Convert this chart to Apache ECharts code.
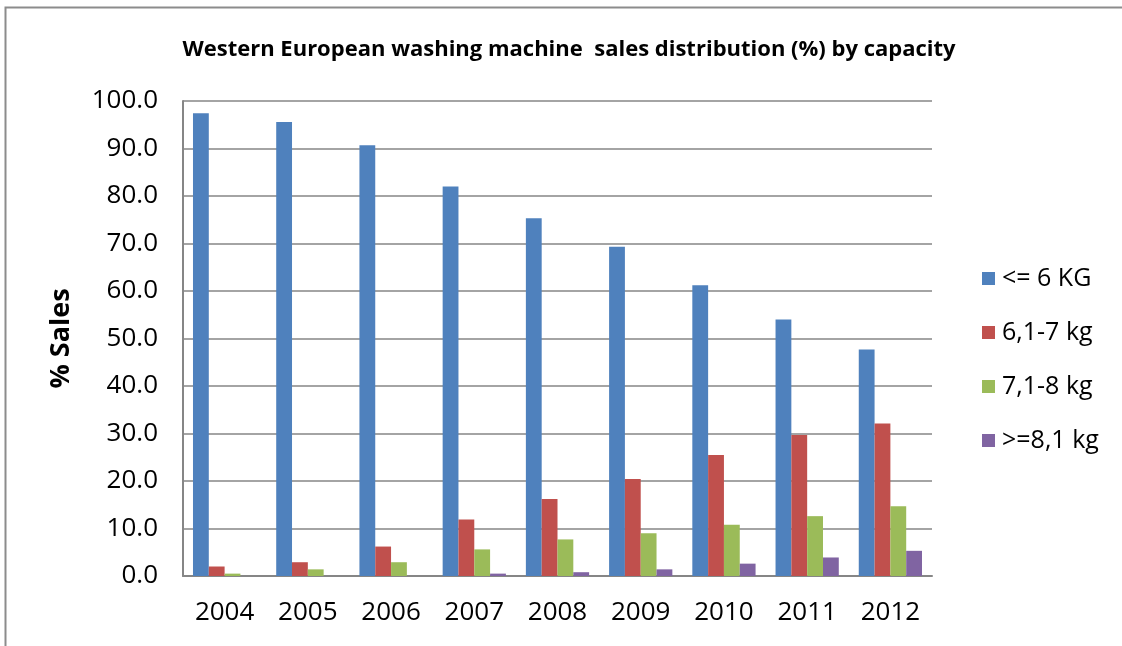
<!DOCTYPE html>
<html>
<head>
<meta charset="utf-8">
<script src="https://cdn.jsdelivr.net/npm/echarts@6/dist/echarts.min.js"></script>
<style>
html,body{margin:0;padding:0;background:#fff;}
#chart{width:1122px;height:646px;}
</style>
</head>
<body>
<div id="chart"></div>
<script>
const years = ['2004','2005','2006','2007','2008','2009','2010','2011','2012'];
const seriesNames = ['<= 6 KG','6,1-7 kg','7,1-8 kg','>=8,1 kg'];
const upTo6 = [97.4, 95.6, 90.7, 82.0, 75.3, 69.3, 61.2, 54.0, 47.7];
const from61to7 = [2.0, 2.9, 6.2, 11.9, 16.2, 20.4, 25.5, 29.7, 32.1];
const from71to8 = [0.5, 1.4, 2.9, 5.6, 7.7, 9.0, 10.8, 12.6, 14.7];
const over81 = [0.0, 0.0, 0.0, 0.5, 0.8, 1.4, 2.6, 3.9, 5.3];
const colors = ['#4F81BD','#C0504D','#9BBB59','#8064A2'];

const chart = echarts.init(document.getElementById('chart'));
const data = [upTo6, from61to7, from71to8, over81];
const FONT = 'Open Sans, Liberation Sans, sans-serif';
chart.setOption({
  animation: false,
  backgroundColor: '#fff',
  graphic: [{
    type: 'rect',
    shape: {x: 5.5, y: 7.5, width: 1130, height: 650},
    style: {fill: 'none', stroke: '#8c8c8c', lineWidth: 2},
    silent: true
  }],
  title: {
    text: 'Western European washing machine  sales distribution (%) by capacity',
    left: 564, top: 34, textAlign: 'center',
    textStyle: {fontFamily: FONT, fontSize: 22, fontWeight: 'bold', color: '#000'}
  },
  legend: {
    orient: 'vertical',
    left: 977, top: 261,
    itemWidth: 13, itemHeight: 13, itemGap: 29,
    icon: 'rect',
    textStyle: {fontFamily: FONT, fontSize: 25, color: '#000', padding: [0,0,0,2]},
    data: seriesNames
  },
  grid: {left: 183, right: 190, top: 101, bottom: 70, containLabel: false},
  xAxis: {
    type: 'category',
    data: years,
    axisLine: {lineStyle: {color: '#868686', width: 2}},
    axisTick: {show: false},
    axisLabel: {fontFamily: FONT, fontSize: 26, color: '#000', margin: 24}
  },
  yAxis: {
    type: 'value',
    min: 0, max: 100, interval: 10,
    name: '% Sales',
    nameLocation: 'middle',
    nameGap: 108,
    nameRotate: 90,
    nameTextStyle: {fontFamily: FONT, fontSize: 27, fontWeight: 'bold', color: '#000'},
    axisLine: {show: true, lineStyle: {color: '#868686', width: 2}},
    axisTick: {show: false},
    splitLine: {lineStyle: {color: '#868686', width: 1.5}},
    axisLabel: {
      fontFamily: FONT, fontSize: 26, color: '#000', margin: 25,
      formatter: v => v.toFixed(1)
    }
  },
  series: seriesNames.map((n, i) => ({
    name: n,
    type: 'bar',
    data: data[i],
    barGap: '0%',
    barCategoryGap: '24%',
    itemStyle: {color: colors[i]}
  }))
});
</script>
</body>
</html>
